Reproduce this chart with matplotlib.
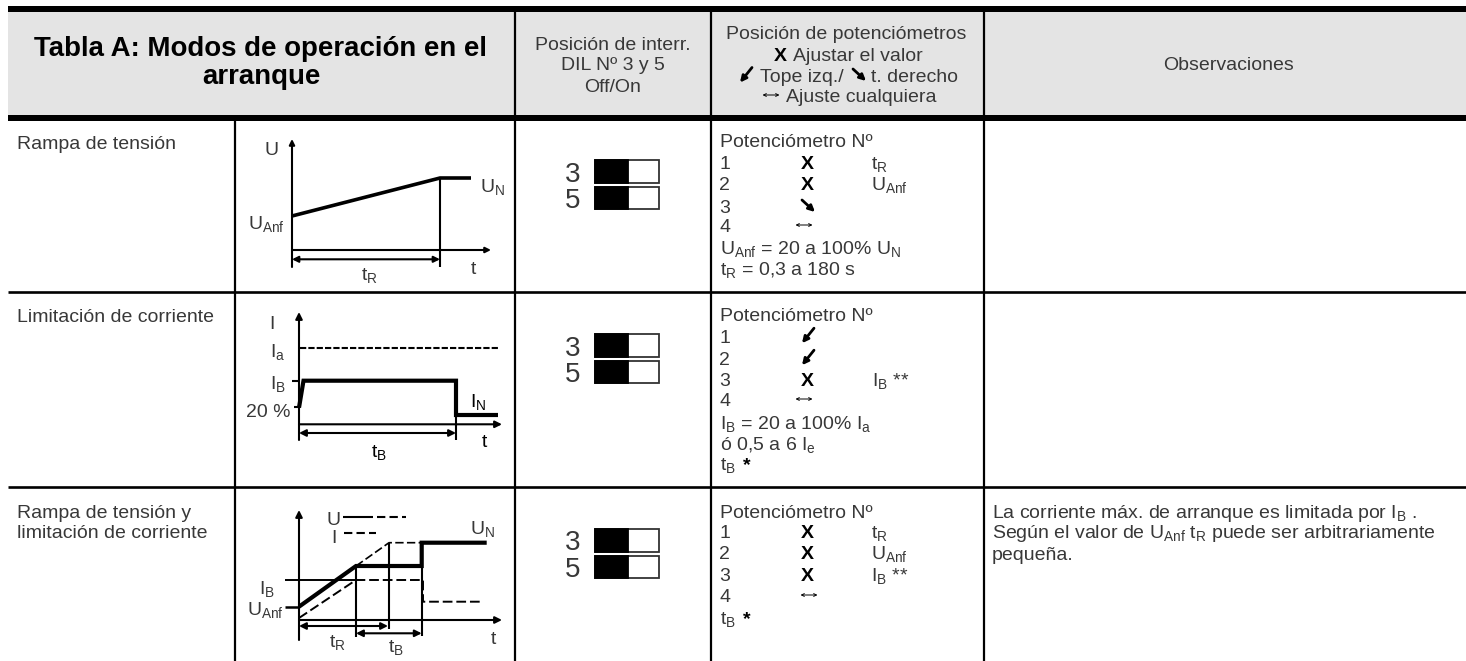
import matplotlib
matplotlib.use("Agg")
import matplotlib.pyplot as plt
from matplotlib.patches import Rectangle

plt.rcParams['font.family'] = ['Liberation Sans', 'DejaVu Sans']
plt.rcParams['mathtext.default'] = 'regular'
plt.rcParams['mathtext.fontset'] = 'custom'
plt.rcParams['mathtext.rm'] = 'Liberation Sans'

TEXT_COLOR = '#383838'
FS = 14

# table layout (pixels)
COL_X = [235, 515, 711, 984]
ROW_Y = [291.7, 486.7]
HEADER_TITLE = ["Tabla A: Modos de operación en el", "arranque"]
HEADER_DIL = ["Posición de interr.", "DIL Nº 3 y 5", "Off/On"]
MODES = [["Rampa de tensión"], ["Limitación de corriente"],
         ["Rampa de tensión y", "limitación de corriente"]]

# switch tops per row
SWITCH_Y = [160, 334, 529]

# diagram 1
D1_RAMP_X = [292, 440, 471]
D1_RAMP_Y = [216, 178, 178]
# diagram 2
D2_CURRENT_X = [299, 303.5, 456, 456, 498]
D2_CURRENT_Y = [407.7, 380.7, 380.7, 415, 415]
# diagram 3
D3_U_X = [299, 356, 421.7, 421.7, 486.7]
D3_U_Y = [606.7, 566, 566, 542.7, 542.7]
D3_UDASH_X = [356, 389, 421.7]
D3_UDASH_Y = [566, 542.7, 542.7]
D3_I_X = [299, 356, 423, 423, 481.7]
D3_I_Y = [618, 580, 580, 601.7, 601.7]

POT_ROW1 = ["1", "2", "3", "4"]

fig = plt.figure(figsize=(14.66, 6.61), dpi=100)
ax = fig.add_axes([0, 0, 1, 1])
ax.set_xlim(0, 1466)
ax.set_ylim(661, 0)
ax.axis('off')


def T(x, y, s, size=FS, ha='left', weight='normal', color=TEXT_COLOR):
    # y is the middle of the capitals, so shift to the baseline
    ax.text(x, y + size * 0.5, s, fontsize=size, ha=ha, va='baseline',
            fontweight=weight, color=color)


def L(xs, ys, lw=1.5, ls='-', **kw):
    ax.plot(xs, ys, color='black', lw=lw, ls=ls, solid_capstyle='butt',
            solid_joinstyle='miter', dash_capstyle='butt', **kw)


def arrow(x0, y0, x1, y1, style='-|>', lw=1.5, ms=9):
    ax.annotate('', xy=(x1, y1), xytext=(x0, y0),
                arrowprops=dict(arrowstyle=style, color='black', lw=lw,
                                mutation_scale=ms, shrinkA=0, shrinkB=0))


def left_arrow(x, y):
    arrow(x + 6, y - 7.5, x - 6, y + 7.5, lw=2, ms=9)


def right_arrow(x, y):
    arrow(x - 6, y - 6, x + 7, y + 6, lw=2, ms=9)


def both_arrow(x, y):
    arrow(x - 8.5, y, x + 8.5, y, style='<->', lw=0.7, ms=5)


# header
ax.add_patch(Rectangle((8.4, 12), 1466 - 8.4, 103, color='#e4e4e4', lw=0))
ax.add_patch(Rectangle((8.4, 6), 1466 - 8.4, 6, color='black', lw=0))
ax.add_patch(Rectangle((8.4, 115), 1466 - 8.4, 6, color='black', lw=0))
for x in COL_X[1:]:
    L([x, x], [12, 115], lw=1.6)
for x in COL_X:
    L([x, x], [121, 661], lw=1.6)
for y in ROW_Y:
    L([8.4, 1466], [y, y], lw=1.9)

T(261, 46, HEADER_TITLE[0], size=19.9, ha='center', weight='bold', color='black')
T(261, 74.5, HEADER_TITLE[1], size=19.9, ha='center', weight='bold', color='black')
for yy, s in zip([43, 63.5, 85], HEADER_DIL):
    T(613, yy, s, ha='center')

T(846.5, 32, "Posición de potenciómetros", ha='center')
T(780.5, 54, "X", ha='center', weight='bold', color='black')
T(793, 54, "Ajustar el valor")
left_arrow(746, 75)
T(760, 75, "Tope izq./")
right_arrow(859, 75)
T(871, 75, "t. derecho")
both_arrow(771, 95)
T(785.5, 95, "Ajuste cualquiera")
T(1229, 63, "Observaciones", ha='center')

# left column
T(17, 141.7, MODES[0][0])
T(17, 315, MODES[1][0])
T(17, 510.7, MODES[2][0])
T(17, 531, MODES[2][1])

# DIL switches
for top in SWITCH_Y:
    for k, num in enumerate(["3", "5"]):
        y0 = top + k * 26.8
        ax.add_patch(Rectangle((594.5, y0), 64.5, 22.5, fc='white', ec='#333333', lw=1.3))
        ax.add_patch(Rectangle((594.5, y0), 33, 22.5, fc='black', ec='black', lw=1.3))
        T(573, y0 + 11.5, num, size=20, ha='center')

# potentiometer column, row 1
T(719.5, 140, "Potenciómetro Nº")
for yy, s in zip([161.7, 183, 206, 225], POT_ROW1):
    T(719.5, yy, s)
T(807.5, 161.7, "X", ha='center', weight='bold', color='black')
T(807.5, 183, "X", ha='center', weight='bold', color='black')
right_arrow(808, 206)
both_arrow(804, 225)
T(871, 161.7, "t$_{R}$")
T(871, 183, "U$_{Anf}$")
T(719.5, 246.7, "U$_{Anf}$ = 20 a 100% U$_{N}$")
T(719.5, 268, "t$_{R}$ = 0,3 a 180 s")

# potentiometer column, row 2
T(719.5, 314, "Potenciómetro Nº")
for yy, s in zip([335.7, 357.7, 379, 399], POT_ROW1):
    T(719.5, yy, s)
left_arrow(808, 335.7)
left_arrow(808, 357.7)
T(807.5, 379, "X", ha='center', weight='bold', color='black')
both_arrow(804, 399)
T(871.7, 379, "I$_{B}$ **")
T(719.5, 421.7, "I$_{B}$ = 20 a 100% I$_{a}$")
T(719.5, 442.7, "ó 0,5 a 6 I$_{e}$")
T(719.5, 463, "t$_{B}$")
T(743, 463, "*", weight='bold', color='black')

# potentiometer column, row 3
T(719.5, 510.7, "Potenciómetro Nº")
for yy, s in zip([531, 552, 574, 595], POT_ROW1):
    T(719.5, yy, s)
for yy in [531, 552, 574]:
    T(807.5, yy, "X", ha='center', weight='bold', color='black')
both_arrow(809, 595)
T(871, 531, "t$_{R}$")
T(871, 552, "U$_{Anf}$")
T(871, 574, "I$_{B}$ **")
T(719.5, 616.7, "t$_{B}$")
T(743, 616.7, "*", weight='bold', color='black')

# remarks
T(992, 510.7, "La corriente máx. de arranque es limitada por I$_{B}$ .")
T(992, 531, "Según el valor de U$_{Anf}$ t$_{R}$ puede ser arbitrariamente")
T(992, 553, "pequeña.")

# diagram 1
arrow(292, 267, 292, 139, ms=8)
arrow(292, 250, 491, 250, ms=8)
L(D1_RAMP_X, D1_RAMP_Y, lw=2.6)
L([440, 440], [178, 267])
arrow(292, 259.3, 440, 259.3, style='<|-|>', ms=9)
T(272, 148, "U", ha='center')
T(480, 185, "U$_{N}$")
T(248, 222, "U$_{Anf}$")
T(369, 273, "t$_{R}$", ha='center')
T(473, 267, "t", ha='center')

# diagram 2
arrow(299, 440, 299, 312, ms=10)
arrow(299, 424.3, 502, 424.3, ms=10)
L([300, 498], [347.7, 347.7], lw=1.5, ls=(0, (3, 1)))
L(D2_CURRENT_X, D2_CURRENT_Y, lw=3)
L([292.4, 299], [380.7, 380.7])
L([293.7, 299], [406.7, 406.7])
L([456, 456], [415, 440])
arrow(299, 433, 456, 433, style='<|-|>', ms=10)
T(272, 321.7, "I", ha='center')
T(270, 350, "I$_{a}$")
T(270, 381.7, "I$_{B}$")
T(268.6, 410, "20 %", ha='center')
T(470, 400, "I$_{N}$", color='black')
T(484, 440, "t", ha='center', color='black')
T(379.4, 450, "t$_{B}$", ha='center', color='black')

# diagram 3
arrow(299, 640, 299, 510, ms=10)
arrow(299, 620, 502, 620, ms=10)
L([285, 299], [606.7, 606.7], lw=1.8)
L(D3_U_X, D3_U_Y, lw=3)
L(D3_UDASH_X, D3_UDASH_Y, lw=1.2, ls=(0, (5, 2)))
L([285, 356], [580, 580], lw=1.4)
L(D3_I_X, D3_I_Y, lw=1.4, ls=(0, (5, 2)))
for xv, ytop, ye in zip([356, 389, 421.7], [566, 542.7, 542.7], [637, 629, 636]):
    L([xv, xv], [ytop, ye], lw=1.5)
arrow(299, 626, 388, 626, style='<|-|>', ms=10)
arrow(356, 633.3, 421.7, 633.3, style='<|-|>', ms=10)
L([343, 373], [517, 517], lw=1.5)
L([377, 406], [517, 517], lw=1.5, ls=(0, (4, 2)))
L([344, 376], [532.7, 532.7], lw=1.5, ls=(0, (4, 2)))
T(334, 518, "U", ha='center')
T(334, 535.7, "I", ha='center')
T(483, 526.7, "U$_{N}$", ha='center')
T(266.7, 587, "I$_{B}$", ha='center')
T(265, 608, "U$_{Anf}$", ha='center')
T(337, 640, "t$_{R}$", ha='center')
T(395.7, 645, "t$_{B}$", ha='center')
T(493, 636.7, "t", ha='center')

fig.savefig('out.png', dpi=100)
